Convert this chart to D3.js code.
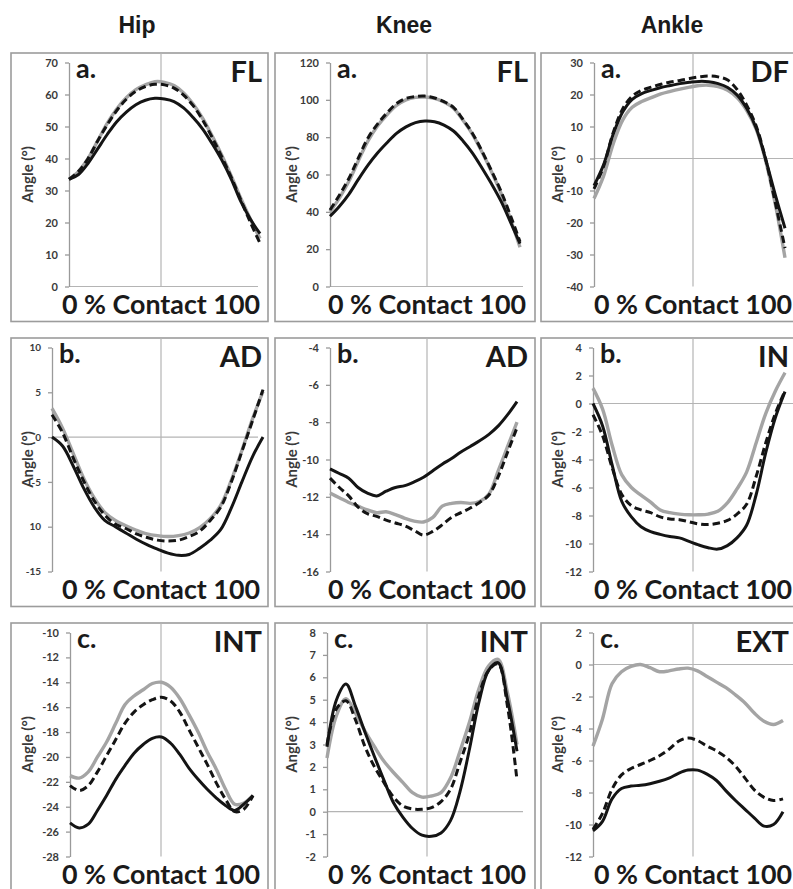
<!DOCTYPE html>
<html><head><meta charset="utf-8">
<script src="https://cdn.jsdelivr.net/npm/d3@7/dist/d3.min.js"></script>
<style>
html,body{margin:0;padding:0;background:#fff;overflow:hidden}
svg{display:block}
</style></head><body>
<svg id="c" width="793" height="889"></svg>
<script>
// ---------------- DATA ----------------
const joints = ["Hip", "Knee", "Ankle"];
const pct = [0,5,10,15,20,25,30,35,40,45,50,55,60,65,70,75,80,85,90,95,100];

// Row a. sagittal
const hipFlTicks = [0,10,20,30,40,50,60,70];
const hipFlGray  = [33.5,36,40,45.5,51,55.5,59,61.5,63,64,63.8,62.8,60.5,57,52.5,47,41,34.5,27.5,21,15];
const hipFlDash  = [33.5,36,40,45.5,50.5,55,58.5,61,62.5,63.2,63,62,59.8,56.5,52,46.5,40.5,34,27,20,13.5];
const hipFlBlack = [33.5,35,38.5,43,47.5,51.5,54.5,56.8,58.2,58.8,58.6,57.8,55.8,52.8,49.2,44.6,39.5,33.5,26.5,21,16.5];

const kneeFlTicks = [0,20,40,60,80,100,120];
const kneeFlGray  = [40,47.5,56.5,67.5,78,86,92,97,100,101.3,101.5,100.8,98.8,95.5,89,81.5,72,61.5,50,36,21];
const kneeFlDash  = [41,49,58,69,79.6,87,93,98,100.8,101.8,102,101,99,96,89.5,82,72.5,62,51,38,24];
const kneeFlBlack = [37.6,43,49.5,57.5,65,71.5,77,82,85.5,87.8,88.7,88.3,86.5,83.3,78,71.5,63.5,55,45.7,34.5,23];

const ankleDfTicks = [-40,-30,-20,-10,0,10,20,30];
const ankleDfGray  = [-12.5,-5.5,4.5,12,16,17.8,19,20.2,21,21.7,22.3,22.8,22.9,22.5,21.3,19,15,9,-1,-14.5,-31];
const ankleDfDash  = [-9.5,-2.5,8,15.5,19.5,21.3,22.3,23.2,23.9,24.4,25,25.5,25.8,25.5,24.5,21.5,16.6,10,-0.5,-14,-28];
const ankleDfBlack = [-8.5,-2,7.5,14.5,18.5,20.3,21.3,22.2,22.8,23.4,23.8,24.1,24,23.4,22.2,19.8,15.6,9.4,-0.5,-11.5,-21.8];

// Row b. frontal
const hipAdTicks  = [-15,-10,-5,0,5,10];
const hipAdLabels = ["-15","10","-5","0","5","10"];
const hipAdGray  = [3.2,1,-1.8,-4.6,-6.8,-8.4,-9.3,-9.9,-10.4,-10.8,-11,-11.1,-11,-10.7,-10.1,-9.1,-7.6,-4.8,-1.5,2,5.1];
const hipAdDash  = [2.5,0.5,-2.3,-4.9,-7.1,-8.7,-9.7,-10.2,-10.8,-11.2,-11.5,-11.6,-11.5,-11.1,-10.5,-9.3,-7.8,-5,-1.6,1.8,5.3];
const hipAdBlack = [0,-1,-3.2,-5.7,-7.8,-9.3,-10,-10.7,-11.4,-12,-12.5,-12.95,-13.2,-13.1,-12.4,-11.5,-10.3,-7.9,-5,-2.2,0];

const kneeAdTicks = [-16,-14,-12,-10,-8,-6,-4];
const kneeAdGray  = [-11.8,-12.05,-12.3,-12.5,-12.7,-12.85,-12.8,-12.95,-13.15,-13.3,-13.35,-13.1,-12.5,-12.35,-12.3,-12.35,-12.25,-11.85,-10.6,-9.3,-8];
const kneeAdDash  = [-11,-11.5,-11.95,-12.55,-12.9,-13.05,-13.25,-13.4,-13.55,-13.8,-14.05,-13.85,-13.5,-13.1,-12.85,-12.6,-12.3,-11.9,-10.9,-9.6,-8.3];
const kneeAdBlack = [-10.5,-10.75,-11,-11.5,-11.8,-11.95,-11.7,-11.5,-11.4,-11.2,-10.95,-10.6,-10.25,-9.95,-9.6,-9.3,-9,-8.65,-8.2,-7.6,-6.9];

const ankleInTicks = [-12,-10,-8,-6,-4,-2,0,2,4];
const ankleInGray  = [1.1,-0.4,-3,-5.1,-6,-6.55,-7.05,-7.6,-7.8,-7.9,-7.95,-7.95,-7.9,-7.7,-7.1,-6.1,-4.9,-2.8,-0.7,0.9,2.2];
const ankleInDash  = [-0.8,-2.3,-4.6,-6.5,-7.3,-7.6,-7.8,-8.1,-8.25,-8.3,-8.45,-8.6,-8.65,-8.55,-8.35,-7.9,-7.2,-5.2,-2.8,-0.7,0.9];
const ankleInBlack = [0,-1.6,-4.4,-7,-8.1,-8.8,-9.15,-9.35,-9.5,-9.6,-9.85,-10.1,-10.3,-10.4,-10.15,-9.6,-8.7,-6.5,-3.5,-1,0.85];

// Row c. transverse
const hipIntTicks = [-28,-26,-24,-22,-20,-18,-16,-14,-12,-10];
const hipIntGray  = [-21.5,-21.7,-21.2,-20,-18.8,-17.3,-15.8,-15.1,-14.6,-14.1,-14,-14.4,-15.3,-16.6,-18,-19.6,-21,-22.6,-23.8,-23.7,-23.1];
const hipIntDash  = [-22.3,-22.7,-22.3,-21.2,-19.9,-18.6,-17.3,-16.4,-15.8,-15.4,-15.2,-15.5,-16.4,-17.8,-19.2,-20.6,-22.1,-23.4,-24.4,-24.2,-23.1];
const hipIntBlack = [-25.3,-25.7,-25.4,-24.3,-23.1,-21.8,-20.7,-19.7,-19,-18.5,-18.4,-18.9,-19.8,-20.9,-21.8,-22.6,-23.3,-23.9,-24.3,-23.8,-23.1];

const kneeIntTicks = [-2,-1,0,1,2,3,4,5,6,7,8];
const kneeIntGray  = [2.4,4.3,5.05,4.4,3.6,2.9,2.25,1.75,1.3,0.85,0.65,0.7,0.85,1.5,2.7,4,5.5,6.5,6.8,5.3,3];
const kneeIntDash  = [3,4.6,4.95,4.1,2.9,2,1.3,0.65,0.25,0.12,0.11,0.18,0.45,1,2.2,3.5,5.2,6.3,6.6,4.7,1.4];
const kneeIntBlack = [2.9,5,5.7,4.7,3.55,2.45,1.4,0.4,-0.25,-0.75,-1.05,-1.1,-0.95,-0.4,0.9,2.8,4.9,6.3,6.65,5,2.7];

const ankleExtTicks = [-12,-10,-8,-6,-4,-2,0,2];
const ankleExtGray  = [-5.1,-3.4,-1.2,-0.45,-0.12,0,-0.2,-0.45,-0.4,-0.28,-0.23,-0.4,-0.75,-1.1,-1.45,-1.9,-2.4,-3.05,-3.55,-3.75,-3.5];
const ankleExtDash  = [-10.3,-9.3,-7.8,-6.9,-6.5,-6.25,-6,-5.7,-5.3,-4.8,-4.6,-4.75,-5.1,-5.4,-5.8,-6.35,-7.1,-7.85,-8.3,-8.5,-8.4];
const ankleExtBlack = [-10.4,-9.8,-8.4,-7.75,-7.6,-7.55,-7.45,-7.3,-7.1,-6.8,-6.6,-6.6,-6.85,-7.25,-7.9,-8.5,-9.05,-9.6,-10.1,-10,-9.2];

const rowLetters = ["a.", "b.", "c."];
const planeTags = [["FL","FL","DF"],["AD","AD","IN"],["INT","INT","EXT"]];
const xLabel = "0 % Contact 100";
const yLabel = "Angle (°)";

// ---------------- LAYOUT ----------------
const rowTop   = [53, 338, 623];
const colLeft  = [11, 275, 541];
const colRight = [268, 535, 801];
const colMid   = [161, 427, 693];
const plotRight = [258, 523, 800];
const tagRight = [262, 528, 789];
const axisX  = [[69,330,594],[52,330,593],[70,327,593]];
const dataEnd = [[260,520,785],[263,517,785],[253,517,783]];
const plotH = 224;

const panels = [
  {r:0,c:0,ticks:hipFlTicks,gray:hipFlGray,dash:hipFlDash,black:hipFlBlack},
  {r:0,c:1,ticks:kneeFlTicks,gray:kneeFlGray,dash:kneeFlDash,black:kneeFlBlack},
  {r:0,c:2,ticks:ankleDfTicks,gray:ankleDfGray,dash:ankleDfDash,black:ankleDfBlack},
  {r:1,c:0,ticks:hipAdTicks,labels:hipAdLabels,gray:hipAdGray,dash:hipAdDash,black:hipAdBlack},
  {r:1,c:1,ticks:kneeAdTicks,gray:kneeAdGray,dash:kneeAdDash,black:kneeAdBlack},
  {r:1,c:2,ticks:ankleInTicks,gray:ankleInGray,dash:ankleInDash,black:ankleInBlack},
  {r:2,c:0,ticks:hipIntTicks,gray:hipIntGray,dash:hipIntDash,black:hipIntBlack},
  {r:2,c:1,ticks:kneeIntTicks,gray:kneeIntGray,dash:kneeIntDash,black:kneeIntBlack},
  {r:2,c:2,ticks:ankleExtTicks,gray:ankleExtGray,dash:ankleExtDash,black:ankleExtBlack}
];

const seriesStyle = [
  {key:"gray",  stroke:"#a4a4a4", width:3.4, dash:null},
  {key:"dash",  stroke:"#141414", width:3.0, dash:"7.5,4"},
  {key:"black", stroke:"#141414", width:3.0, dash:null}
];

const FONT = "Lato, 'Open Sans', 'DejaVu Sans', sans-serif";
const svg = d3.select("#c");

// column headers
svg.selectAll("text.hdr").data(joints).join("text")
  .attr("class","hdr")
  .attr("x",(d,i)=>[137,404,672][i]).attr("y",33)
  .attr("text-anchor","middle")
  .attr("font-family","'Liberation Sans', Arial, sans-serif")
  .attr("font-weight","bold").attr("font-size",23)
  .attr("fill","#1a1a1a")
  .text(d=>d);

panels.forEach(p=>{
  const g = svg.append("g");
  const y0 = rowTop[p.r];
  const yTop = y0 + 9.5, yBot = yTop + plotH;
  const ax = axisX[p.r][p.c];
  const ext = d3.extent(p.ticks);
  const y = d3.scaleLinear().domain(ext).range([yBot, yTop]);
  const x = d3.scaleLinear().domain([0,100]).range([ax, dataEnd[p.r][p.c]]);

  // frame
  g.append("rect")
    .attr("x",colLeft[p.c]).attr("y",y0)
    .attr("width",colRight[p.c]-colLeft[p.c]).attr("height",yBot+35-y0)
    .attr("fill","none").attr("stroke","#9c9c9c").attr("stroke-width",1.6);

  // vertical mid reference
  g.append("line")
    .attr("x1",colMid[p.c]).attr("x2",colMid[p.c])
    .attr("y1",y0).attr("y2",yBot)
    .attr("stroke","#b4b4b4").attr("stroke-width",1.2);

  // horizontal zero line
  if (ext[0] <= 0 && ext[1] >= 0) {
    g.append("line")
      .attr("x1",ax).attr("x2",plotRight[p.c])
      .attr("y1",y(0)).attr("y2",y(0))
      .attr("stroke","#b4b4b4").attr("stroke-width",1.2);
  }

  // y axis
  const axis = d3.axisLeft(y).tickValues(p.ticks).tickSize(4).tickSizeOuter(0).tickPadding(7)
    .tickFormat((d,i)=> p.labels ? p.labels[i] : String(d));
  const ag = g.append("g").attr("transform",`translate(${ax},0)`).call(axis);
  ag.select(".domain").attr("stroke","#9a9a9a").attr("stroke-width",1.3);
  ag.selectAll(".tick line").attr("stroke","#9a9a9a").attr("stroke-width",1.3);
  ag.selectAll(".tick text")
    .attr("font-family",FONT).attr("font-weight","bold")
    .attr("font-size", p.r===1 && p.c===0 ? 10 : 11)
    .attr("fill","#3a3a3a");

  // y label
  g.append("text")
    .attr("transform",`translate(${colLeft[p.c]+17},${yTop+plotH/2}) rotate(-90)`)
    .attr("text-anchor","middle").attr("dy","0.35em")
    .attr("font-family",FONT).attr("font-weight","bold").attr("font-size",15)
    .attr("fill","#3a3a3a")
    .text(yLabel);

  // series
  const line = d3.line().x((d,i)=>x(pct[i])).y(d=>y(d)).curve(d3.curveCatmullRom.alpha(0.5));
  seriesStyle.forEach(s=>{
    g.append("path").datum(p[s.key])
      .attr("d",line)
      .attr("fill","none").attr("stroke",s.stroke).attr("stroke-width",s.width)
      .attr("stroke-dasharray",s.dash).attr("stroke-linejoin","round");
  });

  // row letter
  g.append("text").attr("x",ax+7).attr("y",yTop+15)
    .attr("font-family",FONT).attr("font-weight","bold").attr("font-size",27)
    .attr("fill","#1a1a1a").text(rowLetters[p.r]);

  // plane tag
  g.append("text").attr("x",tagRight[p.c]).attr("y",yTop+19.5)
    .attr("text-anchor","end")
    .attr("font-family",FONT).attr("font-weight","bold").attr("font-size",29)
    .attr("fill","#1a1a1a").text(planeTags[p.r][p.c]);

  // x label
  g.append("text").attr("x",colMid[p.c]).attr("y",yBot+27.5)
    .attr("text-anchor","middle")
    .attr("font-family",FONT).attr("font-weight","bold").attr("font-size",26)
    .attr("textLength",198).attr("lengthAdjust","spacingAndGlyphs")
    .attr("fill","#1a1a1a").text(xLabel);
});
</script>
</body></html>
